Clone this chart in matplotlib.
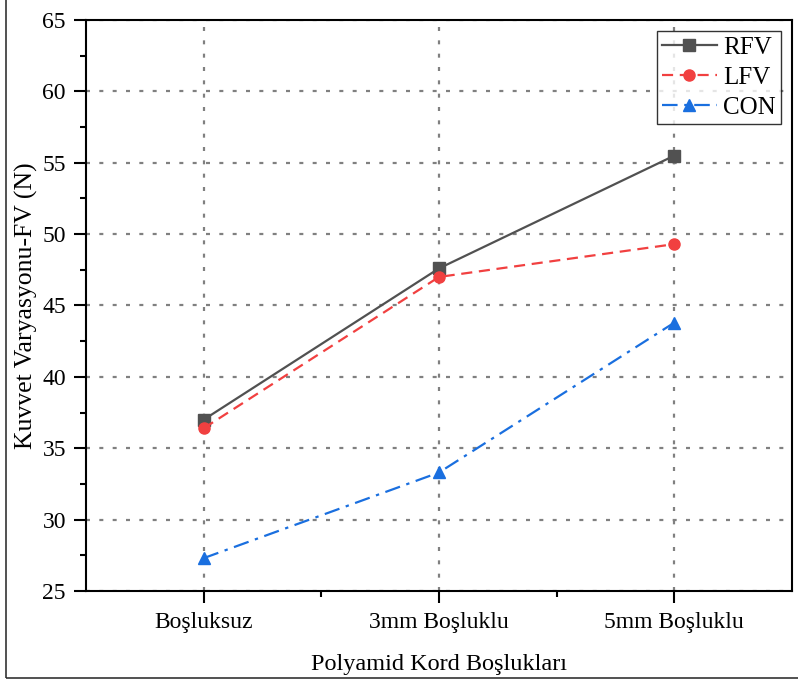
import numpy as np
import matplotlib.pyplot as plt
from matplotlib.patches import Rectangle

plt.rcParams['font.family'] = ['Liberation Serif', 'DejaVu Serif']

categories = ['Boşluksuz', '3mm Boşluklu', '5mm Boşluklu']
rfv = [37.0, 47.6, 55.5]
lfv = [36.4, 47.0, 49.3]
con = [27.3, 33.3, 43.8]

series = [
    ('RFV', rfv, '#515151', '-', 's'),
    ('LFV', lfv, '#F14040', (0, (5, 3)), 'o'),
    ('CON', con, '#1A6FDF', (0, (7, 3, 1.5, 3)), '^'),
]

fig = plt.figure(figsize=(7.98, 6.81), dpi=100)
ax = fig.add_axes([0.1078, 0.1322, 0.8847, 0.8384])

x = np.arange(len(categories))
for label, vals, color, ls, mk in series:
    ax.plot(x, vals, color=color, linestyle=ls, linewidth=1.6,
            marker=mk, markersize=8, label=label, zorder=3)

ax.set_xlim(-0.5, 2.5)
ax.set_ylim(25, 65)
ax.set_xticks(x)
ax.set_xticklabels(categories)
ax.set_xticks([0.5, 1.5], minor=True)
ax.set_yticks(np.arange(25, 66, 5))
ax.set_yticks(np.arange(27.5, 65, 5), minor=True)

ax.tick_params(axis='both', which='major', direction='out', length=8.5, width=1.5,
               labelsize=17)
ax.tick_params(axis='y', which='major', pad=6)
ax.tick_params(axis='x', which='major', pad=7)
ax.tick_params(axis='both', which='minor', direction='out', length=4.5, width=1.5)

for s in ax.spines.values():
    s.set_linewidth(1.5)

ax.grid(True, which='major', color='#808080', linestyle=(0, (1.8, 4.2)), linewidth=1.6)

ax.set_xlabel('Polyamid Kord Boşlukları', fontsize=17.5, labelpad=15)
ax.set_ylabel('Kuvvet Varyasyonu-FV (N)', fontsize=18.5, labelpad=3)

leg = ax.legend(loc='upper right', fontsize=18, frameon=True, fancybox=False,
                edgecolor='black', handlelength=2.2, borderpad=0.2,
                labelspacing=0.3, handletextpad=0.25, borderaxespad=0.45)
leg.get_frame().set_linewidth(1.0)

fig.patches.append(Rectangle((0.0075, 0.0044), 1.2, 1.2, transform=fig.transFigure,
                             fill=False, edgecolor='#333333', linewidth=1.2))

fig.savefig('out.png', dpi=100)
